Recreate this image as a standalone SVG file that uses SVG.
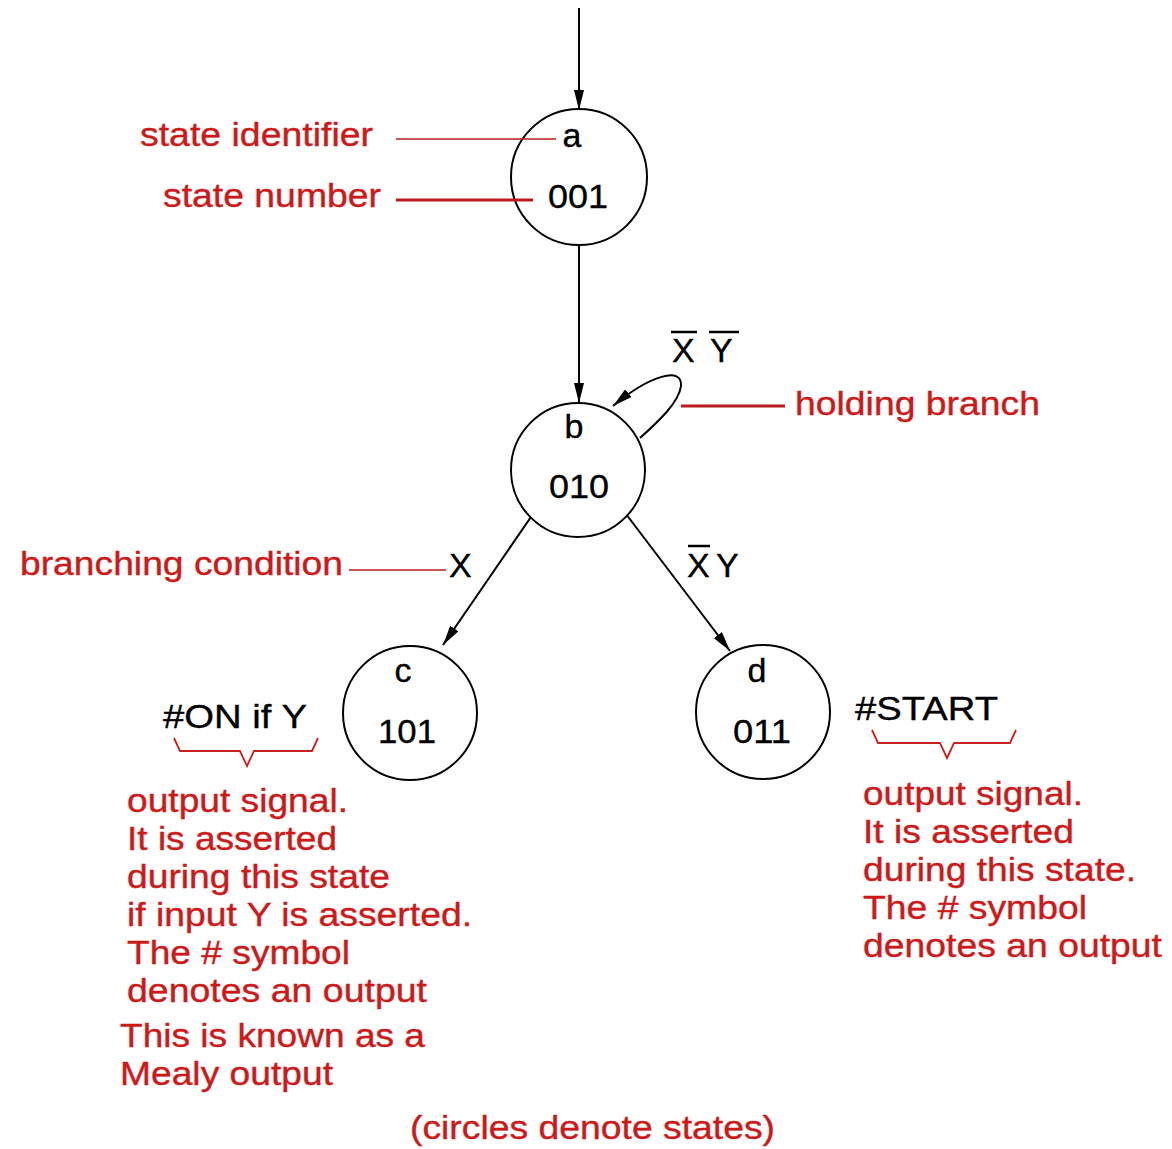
<svg xmlns="http://www.w3.org/2000/svg" width="1172" height="1149" viewBox="0 0 1172 1149">
<defs>
<marker id="arr" viewBox="0 0 20 10" refX="20" refY="5" markerWidth="20" markerHeight="10" markerUnits="userSpaceOnUse" orient="auto">
<path d="M0,0 L20,5 L0,10 Z" fill="#000"/>
</marker>
<style>
.st{fill:#fff;stroke:#000;stroke-width:2}
.bt{font-family:"Liberation Sans",Arial,sans-serif;font-size:34px;fill:#000;stroke:#000;stroke-width:0.35}
.rt{font-family:"Liberation Sans",Arial,sans-serif;font-size:33px;fill:#cc1a1a;stroke:#cc1a1a;stroke-width:0.4}
.ed{fill:none;stroke:#000;stroke-width:2}
.ld{fill:none;stroke:#b81c1c;stroke-width:1.6}
.ldk{fill:none;stroke:#b81c1c;stroke-width:3}
.br{fill:none;stroke:#c82020;stroke-width:1.8}
.bar{stroke:#000;stroke-width:2.5}
</style>
</defs>
<rect width="1172" height="1149" fill="#fff"/>
<g id="connectors">
<line class="ed" x1="579" y1="8" x2="579" y2="110" marker-end="url(#arr)"/>
<line class="ed" x1="579" y1="245" x2="579" y2="403" marker-end="url(#arr)"/>
<path class="ed" d="M640,438 C660,420 679,402 681,386 C683,366 650,375 613,406" marker-end="url(#arr)"/>
<line class="ed" x1="533" y1="514" x2="443" y2="645" marker-end="url(#arr)"/>
<line class="ed" x1="626" y1="514" x2="730" y2="651" marker-end="url(#arr)"/>
</g>
<g id="node-a">
<circle class="st" cx="579" cy="177" r="68"/>
<text class="bt" x="572" y="147" text-anchor="middle">a</text>
<text class="bt" x="578" y="208" text-anchor="middle" textLength="60" lengthAdjust="spacingAndGlyphs">001</text>
</g>
<g id="node-b">
<circle class="st" cx="578" cy="470" r="67"/>
<text class="bt" x="574" y="438" text-anchor="middle">b</text>
<text class="bt" x="579" y="498" text-anchor="middle" textLength="60" lengthAdjust="spacingAndGlyphs">010</text>
</g>
<g id="node-c">
<circle class="st" cx="410" cy="713" r="67"/>
<text class="bt" x="403" y="682" text-anchor="middle">c</text>
<text class="bt" x="407" y="743" text-anchor="middle" textLength="58" lengthAdjust="spacingAndGlyphs">101</text>
</g>
<g id="node-d">
<circle class="st" cx="763" cy="712" r="67"/>
<text class="bt" x="757" y="682" text-anchor="middle">d</text>
<text class="bt" x="762" y="743" text-anchor="middle" textLength="58" lengthAdjust="spacingAndGlyphs">011</text>
</g>
<g id="edge-labels">
<text class="bt" x="672" y="362">X</text>
<line class="bar" x1="671" y1="332" x2="697" y2="332"/>
<text class="bt" x="710" y="362">Y</text>
<line class="bar" x1="709" y1="332" x2="739" y2="332"/>
<text class="bt" x="449" y="577">X</text>
<text class="bt" x="687" y="577">X</text>
<line class="bar" x1="688" y1="546" x2="710" y2="546"/>
<text class="bt" x="716" y="577">Y</text>
</g>
<g id="annotations">
<text class="rt" x="140" y="146" textLength="233" lengthAdjust="spacingAndGlyphs">state identifier</text>
<line class="ld" x1="396" y1="139" x2="556" y2="139"/>
<text class="rt" x="163" y="207" textLength="218" lengthAdjust="spacingAndGlyphs">state number</text>
<line class="ldk" x1="396" y1="200" x2="533" y2="200"/>
<line class="ldk" x1="681" y1="406" x2="785" y2="406"/>
<text class="rt" x="795" y="415" textLength="245" lengthAdjust="spacingAndGlyphs">holding branch</text>
<text class="rt" x="20" y="575" textLength="323" lengthAdjust="spacingAndGlyphs">branching condition</text>
<line class="ld" x1="349" y1="570" x2="446" y2="570"/>
<text class="bt" x="163" y="728" textLength="144" lengthAdjust="spacingAndGlyphs">#ON if Y</text>
<path class="br" d="M174,738 L180,751 L240,751 L247,766 L254,751 L312,751 L318,738"/>
<text class="bt" x="855" y="720" textLength="143" lengthAdjust="spacingAndGlyphs">#START</text>
<path class="br" d="M872,730 L878,743 L940,743 L947,758 L954,743 L1010,743 L1016,730"/>
<text class="rt" x="127" y="812" textLength="221" lengthAdjust="spacingAndGlyphs">output signal.</text>
<text class="rt" x="127" y="850" textLength="210" lengthAdjust="spacingAndGlyphs">It is asserted</text>
<text class="rt" x="127" y="888" textLength="263" lengthAdjust="spacingAndGlyphs">during this state</text>
<text class="rt" x="127" y="926" textLength="345" lengthAdjust="spacingAndGlyphs">if input Y is asserted.</text>
<text class="rt" x="127" y="964" textLength="223" lengthAdjust="spacingAndGlyphs">The # symbol</text>
<text class="rt" x="127" y="1002" textLength="300" lengthAdjust="spacingAndGlyphs">denotes an output</text>
<text class="rt" x="120" y="1047" textLength="305" lengthAdjust="spacingAndGlyphs">This is known as a</text>
<text class="rt" x="120" y="1085" textLength="213" lengthAdjust="spacingAndGlyphs">Mealy output</text>
<text class="rt" x="863" y="805" textLength="220" lengthAdjust="spacingAndGlyphs">output signal.</text>
<text class="rt" x="863" y="843" textLength="211" lengthAdjust="spacingAndGlyphs">It is asserted</text>
<text class="rt" x="863" y="881" textLength="273" lengthAdjust="spacingAndGlyphs">during this state.</text>
<text class="rt" x="863" y="919" textLength="224" lengthAdjust="spacingAndGlyphs">The # symbol</text>
<text class="rt" x="863" y="957" textLength="299" lengthAdjust="spacingAndGlyphs">denotes an output</text>
<text class="rt" x="410" y="1139" textLength="365" lengthAdjust="spacingAndGlyphs">(circles denote states)</text>
</g>
</svg>
